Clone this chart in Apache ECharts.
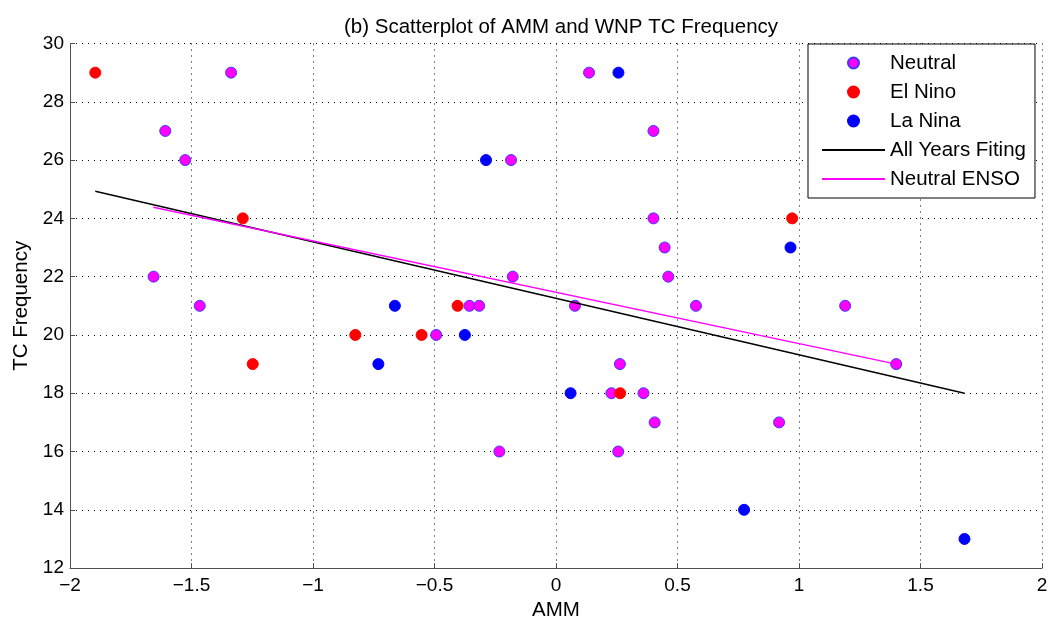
<!DOCTYPE html>
<html>
<head>
<meta charset="utf-8">
<script src="https://cdn.jsdelivr.net/npm/echarts@6/dist/echarts.min.js"></script>
<style>
html,body{margin:0;padding:0;background:#fff;}
#chart{width:1051px;height:626px;}
</style>
</head>
<body>
<div id="chart"></div>
<script>
// ---- data ----
var neutralAMM = [-1.337, 0.136, -1.608, 0.401, -1.526, -0.185, 0.401, 0.447, -1.656, 0.462, -0.178, -1.466, -0.356, -0.316, 0.078, 0.576, 1.19, -0.493, 0.263, 1.40, 0.228, 0.360, 0.406, 0.918, -0.233, 0.256];
var neutralTC  = [29, 29, 27, 27, 26, 26, 24, 23, 22, 22, 22, 21, 21, 21, 21, 21, 21, 20, 19, 19, 18, 18, 17, 17, 16, 16];

var elNinoAMM = [-1.896, -1.289, 0.972, -0.405, -0.826, -0.553, -1.248, 0.264];
var elNinoTC  = [29, 24, 24, 21, 20, 20, 19, 18];

var laNinaAMM = [0.257, -0.288, 0.965, -0.663, -0.375, -0.731, 0.060, 0.774, 1.681];
var laNinaTC  = [29, 26, 23, 21, 20, 19, 18, 14, 13];

var allFitAMM = [-1.896, 1.681];
var allFitTC  = [24.93, 18.0];

var neutralFitAMM = [-1.657, 1.40];
var neutralFitTC  = [24.38, 19.0];

var xTicks = [-2, -1.5, -1, -0.5, 0, 0.5, 1, 1.5, 2];
var yTicks = [12, 14, 16, 18, 20, 22, 24, 26, 28, 30];

var seriesNames = ['Neutral', 'El Nino', 'La Nina', 'All Years Fiting', 'Neutral ENSO'];
var titleText = '(b) Scatterplot of AMM and WNP TC Frequency';
var xName = 'AMM';
var yName = 'TC Frequency';

function zip(a, b) { return a.map(function (v, i) { return [v, b[i]]; }); }
function fmt(v) { return String(v).replace('-', '\u2212'); }

var FONT = '"Liberation Sans", Arial, Helvetica, sans-serif';
var axisColor = '#505050';
var hidden = {color: 'rgba(0,0,0,0)', borderColor: 'rgba(0,0,0,0)', borderWidth: 0};

var chart = echarts.init(document.getElementById('chart'), null, {renderer: 'canvas'});
chart.setOption({
  animation: false,
  backgroundColor: '#ffffff',
  title: {
    text: titleText,
    left: 556, top: 12,
    textAlign: 'center',
    textStyle: {fontFamily: FONT, fontSize: 20.5, fontWeight: 'normal', color: '#000'}
  },
  grid: {left: 70, right: 9, top: 43.5, bottom: 55.5},
  legend: {
    data: [
      {name: seriesNames[0]},
      {name: seriesNames[1]},
      {name: seriesNames[2]},
      {name: seriesNames[3], itemStyle: hidden},
      {name: seriesNames[4], itemStyle: hidden}
    ],
    orient: 'vertical',
    left: 808, top: 44,
    padding: [8, 9, 8, 13],
    itemGap: 7,
    itemWidth: 63,
    itemHeight: 11,
    backgroundColor: '#fff',
    borderColor: '#000',
    borderWidth: 1,
    borderRadius: 0,
    textStyle: {fontFamily: FONT, fontSize: 20.5, color: '#000', lineHeight: 22}
  },
  xAxis: {
    type: 'value',
    min: xTicks[0], max: xTicks[xTicks.length - 1], interval: 0.5,
    name: xName, nameLocation: 'middle', nameGap: 28,
    nameTextStyle: {fontFamily: FONT, fontSize: 20.5, color: '#000'},
    axisLine: {show: true, onZero: false, lineStyle: {color: axisColor, width: 1}},
    axisTick: {show: true, inside: true, length: 5, lineStyle: {color: axisColor}},
    axisLabel: {fontFamily: FONT, fontSize: 19, color: '#000', margin: 8, formatter: fmt},
    splitLine: {show: true, lineStyle: {color: '#000', width: 1, type: [1, 5]}}
  },
  yAxis: {
    type: 'value',
    min: yTicks[0], max: yTicks[yTicks.length - 1], interval: 2,
    name: yName, nameLocation: 'middle', nameGap: 35, nameRotate: 90,
    nameTextStyle: {fontFamily: FONT, fontSize: 20.5, color: '#000'},
    axisLine: {show: true, onZero: false, lineStyle: {color: axisColor, width: 1}},
    axisTick: {show: true, inside: true, length: 5, lineStyle: {color: axisColor}},
    axisLabel: {fontFamily: FONT, fontSize: 19, color: '#000', margin: 6, formatter: fmt},
    splitLine: {show: true, lineStyle: {color: '#000', width: 1, type: [1, 5]}}
  },
  series: [
    {
      name: seriesNames[0], type: 'scatter', symbol: 'circle', symbolSize: 11, z: 3,
      itemStyle: {color: '#ff00ff', borderColor: '#3a3aff', borderWidth: 1, opacity: 1},
      data: zip(neutralAMM, neutralTC)
    },
    {
      name: seriesNames[1], type: 'scatter', symbol: 'circle', symbolSize: 11, z: 3,
      itemStyle: {color: '#ff0000', borderColor: '#ff0000', borderWidth: 1, opacity: 1},
      data: zip(elNinoAMM, elNinoTC)
    },
    {
      name: seriesNames[2], type: 'scatter', symbol: 'circle', symbolSize: 11, z: 3,
      itemStyle: {color: '#0000ff', borderColor: '#0000ff', borderWidth: 1, opacity: 1},
      data: zip(laNinaAMM, laNinaTC)
    },
    {
      name: seriesNames[3], type: 'line', symbol: 'none', showSymbol: false, z: 4,
      lineStyle: {color: '#000000', width: 1.4},
      itemStyle: {color: '#000000'},
      data: zip(allFitAMM, allFitTC)
    },
    {
      name: seriesNames[4], type: 'line', symbol: 'none', showSymbol: false, z: 4,
      lineStyle: {color: '#ff00ff', width: 1.4},
      itemStyle: {color: '#ff00ff'},
      data: zip(neutralFitAMM, neutralFitTC)
    }
  ]
});
</script>
</body>
</html>
